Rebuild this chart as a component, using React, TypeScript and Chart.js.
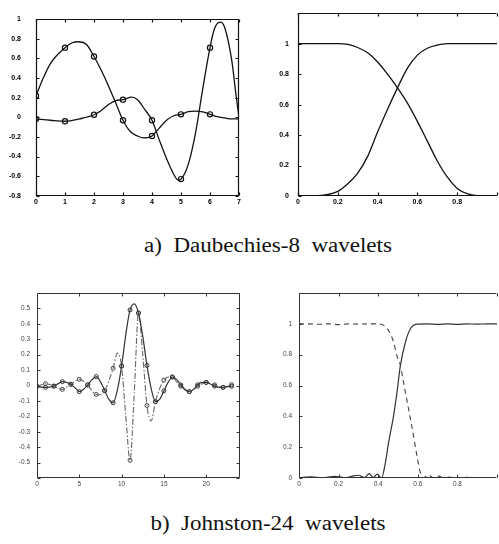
import React, { useEffect, useRef } from "react";
import { Chart, registerables } from "chart.js";

Chart.register(...registerables);

// ---------------- a) Daubechies-8 : time domain ----------------
const daubScaleX = [0, 0.25, 0.5, 0.75, 1, 1.25, 1.45, 1.75, 2, 2.25, 2.5, 2.75, 3, 3.25, 3.5, 3.7, 4, 4.25, 4.5, 4.75, 5, 5.25, 5.5, 5.75, 6, 6.25, 6.5, 6.75, 7];
const daubScaleY = [0.22, 0.4, 0.55, 0.64, 0.71, 0.76, 0.77, 0.74, 0.62, 0.48, 0.32, 0.145, -0.03, -0.145, -0.19, -0.21, -0.19, -0.11, -0.03, 0.016, 0.03, 0.058, 0.064, 0.055, 0.03, 0.006, -0.006, -0.016, -0.016];
const daubWaveX = [0, 0.5, 1, 1.5, 2, 2.25, 2.5, 2.75, 3, 3.3, 3.5, 3.75, 4, 4.25, 4.5, 4.75, 4.9, 5, 5.25, 5.5, 5.75, 6, 6.15, 6.35, 6.5, 6.75, 6.9, 7];
const daubWaveY = [-0.016, -0.03, -0.04, -0.016, 0.026, 0.07, 0.13, 0.17, 0.18, 0.205, 0.18, 0.08, -0.03, -0.23, -0.42, -0.58, -0.64, -0.63, -0.48, -0.16, 0.29, 0.71, 0.9, 0.97, 0.92, 0.58, 0.22, 0.0];
const daubSampleX = [0, 1, 2, 3, 4, 5, 6];
const daubScaleSamples = [0.22, 0.71, 0.62, -0.03, -0.19, 0.03, 0.03];
const daubWaveSamples = [-0.016, -0.04, 0.026, 0.18, -0.03, -0.63, 0.71];

// ---------------- a) Daubechies-8 : frequency domain ----------------
const daubFreqX = [0, 0.05, 0.1, 0.15, 0.2, 0.25, 0.3, 0.35, 0.4, 0.45, 0.5, 0.55, 0.6, 0.65, 0.7, 0.75, 0.8, 0.85, 0.9, 0.95, 1];
const daubLow = [1, 1, 1, 1, 1, 0.995, 0.975, 0.94, 0.88, 0.8, 0.71, 0.61, 0.49, 0.36, 0.23, 0.125, 0.05, 0.015, 0.002, 0, 0];
const daubHigh = [0, 0, 0.002, 0.01, 0.03, 0.08, 0.15, 0.26, 0.42, 0.57, 0.71, 0.84, 0.925, 0.97, 0.99, 1, 1, 1, 1, 1, 1];

// ---------------- b) Johnston-24 : time domain ----------------
const johnCurveX = [0, 0.5, 1, 1.5, 2, 2.5, 3, 3.5, 4, 4.5, 5, 5.5, 6, 6.5, 7, 7.5, 8, 8.5, 9, 9.5, 10, 10.5, 11, 11.5, 12, 12.5, 13, 13.5, 14, 14.5, 15, 15.5, 16, 16.5, 17, 17.5, 18, 18.5, 19, 19.5, 20, 20.5, 21, 21.5, 22, 22.5, 23];
const johnLowCurve = [-0.005, -0.01, -0.012, -0.01, -0.004, 0.012, 0.025, 0.02, 0.008, -0.015, -0.04, -0.025, 0.004, 0.038, 0.058, 0.025, -0.033, -0.09, -0.112, -0.03, 0.126, 0.33, 0.49, 0.53, 0.47, 0.32, 0.13, -0.02, -0.105, -0.09, -0.035, 0.02, 0.055, 0.04, 0.004, -0.025, -0.04, -0.025, 0.005, 0.02, 0.02, 0.01, -0.004, -0.012, -0.012, -0.008, -0.005];
const johnHighCurve = [-0.005, 0.004, 0.012, 0.006, -0.004, -0.018, -0.025, -0.01, 0.008, 0.028, 0.04, 0.028, 0.004, -0.035, -0.058, -0.06, -0.033, 0.03, 0.112, 0.21, 0.126, -0.2, -0.485, -0.05, 0.47, 0.2, -0.13, -0.23, -0.105, -0.02, 0.035, 0.055, 0.055, 0.025, -0.004, -0.03, -0.04, -0.025, -0.005, 0.01, 0.02, 0.012, 0.004, -0.006, -0.012, -0.005, 0.005];
const johnTapX = [0, 1, 2, 3, 4, 5, 6, 7, 8, 9, 10, 11, 12, 13, 14, 15, 16, 17, 18, 19, 20, 21, 22, 23];
const johnLowTaps = [-0.005, -0.012, -0.004, 0.025, 0.008, -0.04, 0.004, 0.058, -0.033, -0.112, 0.126, 0.49, 0.47, 0.13, -0.105, -0.035, 0.055, 0.004, -0.04, 0.005, 0.02, -0.004, -0.012, -0.005];
const johnHighTaps = [-0.005, 0.012, -0.004, -0.025, 0.008, 0.04, 0.004, -0.058, -0.033, 0.112, 0.126, -0.485, 0.47, -0.13, -0.105, 0.035, 0.055, -0.004, -0.04, -0.005, 0.02, 0.004, -0.012, 0.005];

// ---------------- b) Johnston-24 : frequency domain ----------------
const johnLowX = [0, 0.05, 0.1, 0.15, 0.2, 0.25, 0.3, 0.35, 0.4, 0.428, 0.453, 0.478, 0.495, 0.512, 0.528, 0.553, 0.578, 0.595, 0.612, 0.628, 0.653, 0.68, 0.705, 0.73, 0.76, 0.8, 0.85, 0.9, 0.95, 1];
const johnLowY = [1, 1.0, 0.997, 1.0, 0.995, 1.0, 0.998, 1.0, 1.0, 0.99, 0.955, 0.88, 0.79, 0.73, 0.62, 0.45, 0.277, 0.148, 0.04, 0.0, 0.02, 0.0, 0.012, 0.0, 0.006, 0.0, 0.004, 0, 0.003, 0];
const johnHighX = [0, 0.06, 0.12, 0.18, 0.24, 0.27, 0.3, 0.33, 0.355, 0.375, 0.395, 0.417, 0.435, 0.453, 0.478, 0.495, 0.512, 0.537, 0.562, 0.595, 0.65, 0.7, 0.75, 0.8, 0.85, 0.9, 0.95, 1];
const johnHighY = [0.003, 0.008, 0.002, 0.01, 0.002, 0.012, 0.018, 0.003, 0.028, 0.004, 0.025, 0.0, 0.09, 0.234, 0.406, 0.557, 0.729, 0.879, 0.966, 0.998, 1.0, 0.996, 1.0, 0.997, 1.0, 0.998, 1.0, 1.0];

const captionA = "a)  Daubechies-8  wavelets";
const captionB = "b)  Johnston-24  wavelets";

// ---------------- helpers ----------------
const pts = (xs: number[], ys: number[]) => xs.map((x, i) => ({ x, y: ys[i] }));
const fmt = (v: number) => {
  const r = Math.round(v * 10) / 10;
  return r === 0 ? "0" : String(r);
};

const framePlugin = {
  id: "frame",
  afterDraw(chart: any, _args: any, opts: any) {
    const { ctx, chartArea: a, scales } = chart;
    const L = Math.round(a.left) + 0.5;
    const R = Math.round(a.right) - 0.5;
    const T = Math.round(a.top) + 0.5;
    const B = Math.round(a.bottom) - 0.5;
    ctx.save();
    ctx.strokeStyle = opts.color || "#000";
    ctx.lineWidth = opts.width || 1;
    ctx.beginPath();
    ctx.moveTo(R, T);
    ctx.lineTo(L, T);
    ctx.lineTo(L, B);
    ctx.lineTo(R, B);
    if (!opts.noRight) ctx.lineTo(R, T);
    ctx.stroke();
    const len = 3;
    ctx.beginPath();
    scales.x.ticks.forEach((t: any) => {
      const px = Math.round(scales.x.getPixelForValue(t.value)) + 0.5;
      ctx.moveTo(px, B);
      ctx.lineTo(px, B - len);
      ctx.moveTo(px, T);
      ctx.lineTo(px, T + len);
    });
    scales.y.ticks.forEach((t: any) => {
      const py = Math.round(scales.y.getPixelForValue(t.value)) + 0.5;
      ctx.moveTo(L, py);
      ctx.lineTo(L + len, py);
      if (!opts.noRight) {
        ctx.moveTo(R, py);
        ctx.lineTo(R - len, py);
      }
    });
    ctx.stroke();
    ctx.restore();
  },
};

type AxisOpt = {
  min: number;
  max: number;
  step: number;
  size: number;
  padding: number;
  font: any;
  color: string;
  hide?: (v: number) => boolean;
  includeBounds?: boolean;
};

const axis = (o: AxisOpt, horizontal: boolean) => ({
  type: "linear",
  min: o.min,
  max: o.max,
  grid: { display: false, drawTicks: false },
  border: { display: false },
  ticks: {
    stepSize: o.step,
    padding: o.padding,
    font: o.font,
    color: o.color,
    autoSkip: false,
    maxRotation: 0,
    includeBounds: o.includeBounds !== false,
    callback: (v: any) => (o.hide && o.hide(Number(v)) ? "" : fmt(Number(v))),
  },
  afterFit: (s: any) => {
    if (horizontal) s.height = o.size;
    else s.width = o.size;
  },
});

const baseOptions = (padding: any, x: any, y: any, frame: any) => ({
  responsive: false,
  animation: false,
  layout: { padding },
  plugins: { legend: { display: false }, tooltip: { enabled: false }, frame },
  scales: { x, y },
});

const curve = (xs: number[], ys: number[], color: string, width: number, dash: number[] = []) => ({
  data: pts(xs, ys),
  showLine: true,
  borderColor: color,
  borderWidth: width,
  borderDash: dash,
  pointRadius: 0,
  cubicInterpolationMode: "monotone",
  fill: false,
});

const circles = (xs: number[], ys: number[], color: string, r: number, w: number) => ({
  data: pts(xs, ys),
  showLine: false,
  pointRadius: r,
  pointBorderWidth: w,
  pointBorderColor: color,
  pointBackgroundColor: "rgba(0,0,0,0)",
  pointStyle: "circle",
});

const boldFont = { family: "'Liberation Sans', Arial, sans-serif", size: 7, weight: "bold" };
const thinFont = { family: "'Liberation Sans', Arial, sans-serif", size: 6.5, weight: "normal" };

// ---------------- chart configs ----------------
const cfgDaubTime = () => ({
  type: "scatter",
  data: {
    datasets: [
      curve(daubScaleX, daubScaleY, "#111", 1.3),
      curve(daubWaveX, daubWaveY, "#111", 1.3),
      circles(daubSampleX, daubScaleSamples, "#111", 2.6, 1.2),
      circles(daubSampleX, daubWaveSamples, "#111", 2.6, 1.2),
    ],
  },
  options: baseOptions(
    { left: 0, top: 10, right: 11, bottom: 0 },
    axis({ min: 0, max: 7, step: 1, size: 18, padding: 2, font: boldFont, color: "#000" }, true),
    axis({ min: -0.8, max: 1, step: 0.2, size: 36, padding: 15, font: boldFont, color: "#000" }, false),
    { color: "#111", width: 1.2 }
  ),
  plugins: [framePlugin],
});

const cfgDaubFreq = () => ({
  type: "scatter",
  data: {
    datasets: [curve(daubFreqX, daubLow, "#111", 1.3), curve(daubFreqX, daubHigh, "#111", 1.3)],
  },
  options: baseOptions(
    { left: 0, top: 10, right: 0, bottom: 0 },
    axis({ min: 0, max: 1, step: 0.2, size: 19, padding: 2, font: boldFont, color: "#000", hide: (v) => v > 0.95 }, true),
    axis({ min: 0, max: 1.2, step: 0.2, size: 48, padding: 9, font: boldFont, color: "#000", hide: (v) => v > 1.05 }, false),
    { color: "#111", width: 1.2, noRight: true }
  ),
  plugins: [framePlugin],
});

const cfgJohnTime = () => ({
  type: "scatter",
  data: {
    datasets: [
      curve(johnCurveX, johnLowCurve, "#333", 1.2),
      curve(johnCurveX, johnHighCurve, "#666", 1.1, [6, 2, 1.5, 2]),
      circles(johnTapX, johnLowTaps, "#333", 2, 1),
      circles(johnTapX, johnHighTaps, "#444", 2, 1),
    ],
  },
  options: baseOptions(
    { left: 0, top: 13, right: 10, bottom: 0 },
    axis({ min: 0, max: 24, step: 5, size: 17, padding: 2, font: thinFont, color: "#444", includeBounds: false }, true),
    axis({ min: -0.6, max: 0.6, step: 0.1, size: 37, padding: 7, font: thinFont, color: "#444", hide: (v) => Math.abs(v) > 0.55 }, false),
    { color: "#333", width: 1 }
  ),
  plugins: [framePlugin],
});

const cfgJohnFreq = () => ({
  type: "scatter",
  data: {
    datasets: [
      curve(johnLowX, johnLowY, "#444", 1.1, [5, 4]),
      curve(johnHighX, johnHighY, "#333", 1.2),
    ],
  },
  options: baseOptions(
    { left: 0, top: 13, right: 0, bottom: 0 },
    axis({ min: 0, max: 1, step: 0.2, size: 17, padding: 2, font: thinFont, color: "#444", hide: (v) => v > 0.95 }, true),
    axis({ min: 0, max: 1.2, step: 0.2, size: 49, padding: 7, font: thinFont, color: "#444", hide: (v) => v > 1.05 }, false),
    { color: "#333", width: 1, noRight: true }
  ),
  plugins: [framePlugin],
});

// ---------------- components ----------------
type PanelProps = { left: number; top: number; width: number; height: number; make: () => any };

function Panel({ left, top, width, height, make }: PanelProps) {
  const ref = useRef<HTMLCanvasElement>(null);
  useEffect(() => {
    if (!ref.current) return;
    const chart = new Chart(ref.current, make());
    return () => chart.destroy();
  }, []);
  return (
    <canvas
      ref={ref}
      width={width}
      height={height}
      style={{ position: "absolute", left, top, width, height, display: "block" }}
    />
  );
}

const captionStyle = (top: number): React.CSSProperties => ({
  position: "absolute",
  left: 267.5,
  top,
  transform: "translateX(-50%) scaleX(1.15)",
  fontFamily: "'Liberation Serif', 'Times New Roman', serif",
  fontSize: 20,
  lineHeight: "20px",
  whiteSpace: "pre",
  color: "#111",
});

export default function App() {
  return (
    <div
      style={{
        position: "absolute",
        left: 0,
        top: 0,
        width: 499,
        height: 544,
        overflow: "hidden",
        background: "#fff",
      }}
    >
      <Panel left={0} top={0} width={250} height={215} make={cfgDaubTime} />
      <Panel left={250} top={0} width={249} height={215} make={cfgDaubFreq} />
      <div style={captionStyle(235)}>{captionA}</div>
      <Panel left={0} top={280} width={250} height={215} make={cfgJohnTime} />
      <Panel left={250} top={280} width={249} height={215} make={cfgJohnFreq} />
      <div style={captionStyle(513)}>{captionB}</div>
    </div>
  );
}
